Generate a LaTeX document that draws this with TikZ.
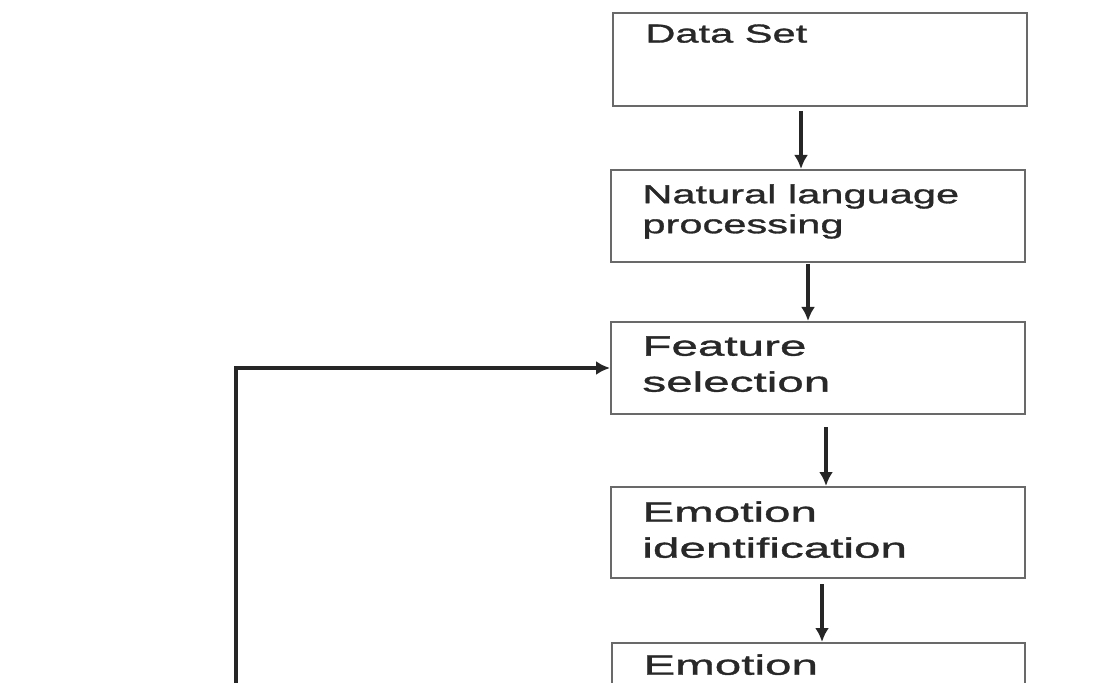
\documentclass[tikz,border=0pt]{standalone}
\usepackage{fontspec}
\newfontfamily\boxfont{Liberation Sans}[FakeStretch=1.6, FakeBold=1.2]
\newfontfamily\boxfontwide{Liberation Sans}[FakeStretch=1.7, FakeBold=1.2]
\usepackage{tikz}
\usetikzlibrary{fit, arrows.meta, positioning}
\definecolor{boxgray}{RGB}{105,105,105}
\definecolor{textgray}{RGB}{40,40,40}
\tikzstyle{stage} = [draw=boxgray, line width=1pt, inner sep=0pt]
\tikzstyle{caption} = [anchor=north west, inner sep=0pt, align=left, text=textgray,
                       font=\boxfont\fontsize{13}{15}\selectfont]
\tikzstyle{bigcaption} = [caption, font=\boxfontwide\fontsize{14}{18}\selectfont]
\tikzstyle{flow} = [draw=black!85, line width=1.6pt, -{Latex[length=7pt, width=7pt]}]

\begin{document}
\begin{tikzpicture}[x=0.5pt, y=-0.5pt]
				\useasboundingbox (0, 0) rectangle (1095, 683);
				\clip (0, 0) rectangle (1095, 683);

				% the stages
				\node (DataSet) [stage, fit={(613, 13) (1027, 106)}] {};
				\node (DataSetText) [caption] at ([shift={(33, 12)}]DataSet.north west) {Data Set};

				\node (NLP) [stage, fit={(611, 170) (1025, 262)}] {};
				\node (NLPText) [caption] at ([shift={(32, 15)}]NLP.north west) {Natural language\\processing};

				\node (Feature) [stage, fit={(611, 322) (1025, 414)}] {};
				\node (FeatureText) [bigcaption] at ([shift={(32, 15)}]Feature.north west) {Feature\\selection};

				\node (EmoId) [stage, fit={(611, 487) (1025, 578)}] {};
				\node (EmoIdText) [bigcaption] at ([shift={(32, 15)}]EmoId.north west) {Emotion\\identification};

				\node (EmoNext) [stage, fit={(612, 643) (1025, 740)}] {};
				\node (EmoNextText) [bigcaption] at ([shift={(32, 12)}]EmoNext.north west) {Emotion};

				% downward arrows
				\coordinate (DataSetOut) at ([shift={(-19, 4)}]DataSet.south);
				\draw [flow] (DataSetOut) -- (DataSetOut |- NLP.north);

				\coordinate (NLPOut) at ([shift={(-10, 1)}]NLP.south);
				\draw [flow] (NLPOut) -- (NLPOut |- Feature.north);

				\coordinate (FeatureOut) at ([shift={(8, 12)}]Feature.south);
				\draw [flow] (FeatureOut) -- (FeatureOut |- EmoId.north);

				\coordinate (EmoIdOut) at ([shift={(4, 5)}]EmoId.south);
				\draw [flow] (EmoIdOut) -- (EmoIdOut |- EmoNext.north);

				% feedback
				\coordinate (Back) at (236, 700);
				\draw [flow] (Back) |- (Feature.west);
\end{tikzpicture}
\end{document}
